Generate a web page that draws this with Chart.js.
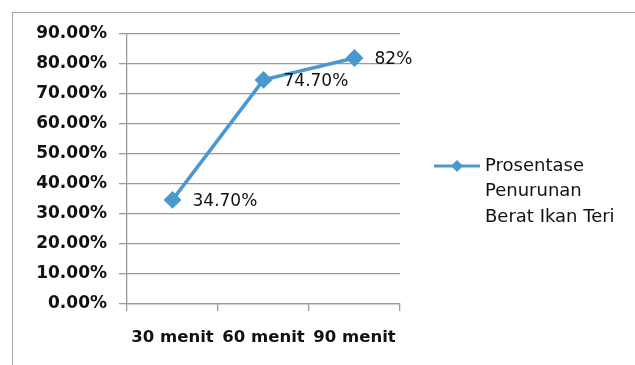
<!DOCTYPE html>
<html>
<head>
<meta charset="utf-8">
<script src="https://cdn.jsdelivr.net/npm/chart.js@4.4.0/dist/chart.umd.min.js"></script>
<style>
  html, body { margin: 0; padding: 0; background: #fff; }
  #wrap { position: relative; width: 635px; height: 365px; overflow: hidden; }
  #frame { position: absolute; left: 12px; top: 12px; width: 700px; height: 400px;
           border-left: 1px solid #a6a6a6; border-top: 1px solid #a6a6a6; }
  canvas { position: absolute; left: 0; top: 0; }
</style>
</head>
<body>
<div id="wrap">
  <div id="frame"></div>
  <canvas id="chart" width="635" height="365"></canvas>
</div>
<script>
// categories and series
const categories = ["30 menit", "60 menit", "90 menit"];
const seriesName = ["Prosentase", "Penurunan", "Berat Ikan Teri"];
const seriesValues = [34.7, 74.7, 82];
const yTicks = [0, 10, 20, 30, 40, 50, 60, 70, 80, 90];

const lineColor = "#4a98d0";

//label text for a point: whole numbers drop the decimals
const fmtValue = (v) => (Number.isInteger(v) ? v + "%" : v.toFixed(2) + "%");

//draws the value next to each marker
const valueLabels = {
  id: "valueLabels",
  afterDatasetsDraw(chart) {
    const ctx = chart.ctx;
    const meta = chart.getDatasetMeta(0);
    ctx.save();
    ctx.font = "17px 'DejaVu Sans'";
    ctx.fillStyle = "#111";
    ctx.textBaseline = "middle";
    ctx.textAlign = "left";
    meta.data.forEach((pt, i) => {
      ctx.fillText(fmtValue(seriesValues[i]), pt.x + 20, pt.y + 2);
    });
    ctx.restore();
  },
};

//legend on the right, wrapped over three lines
const sideLegend = {
  id: "sideLegend",
  afterDraw(chart) {
    const ctx = chart.ctx;
    const x = chart.chartArea.right + 34;
    const y = 166;
    ctx.save();
    ctx.strokeStyle = lineColor;
    ctx.lineWidth = 3;
    ctx.beginPath();
    ctx.moveTo(x, y);
    ctx.lineTo(x + 46, y);
    ctx.stroke();
    ctx.fillStyle = lineColor;
    ctx.beginPath();
    ctx.moveTo(x + 23, y - 6);
    ctx.lineTo(x + 29, y);
    ctx.lineTo(x + 23, y + 6);
    ctx.lineTo(x + 17, y);
    ctx.closePath();
    ctx.fill();
    ctx.font = "18px 'DejaVu Sans'";
    ctx.fillStyle = "#111";
    ctx.textBaseline = "middle";
    seriesName.forEach((line, i) => {
      ctx.fillText(line, x + 51, y + i * 25.5);
    });
    ctx.restore();
  },
};

new Chart(document.getElementById("chart"), {
  type: "line",
  plugins: [valueLabels, sideLegend],
  data: {
    labels: categories,
    datasets: [
      {
        label: seriesName.join(" "),
        data: seriesValues,
        borderColor: lineColor,
        backgroundColor: lineColor,
        borderWidth: 3.5,
        pointStyle: "rectRot",
        pointRadius: 6.5,
        pointHoverRadius: 6.5,
        tension: 0,
      },
    ],
  },
  options: {
    responsive: false,
    animation: false,
    layout: { padding: { top: 34, right: 235, bottom: 0, left: 0 } },
    plugins: {
      legend: { display: false },
      tooltip: { enabled: false },
    },
    scales: {
      x: {
        offset: true,
        afterFit: (s) => { s.height = 61; },
        grid: {
          offset: true,
          drawOnChartArea: false,
          drawTicks: true,
          tickLength: 7,
          color: "#999999",
          lineWidth: 1.3,
        },
        border: { display: true, color: "#999999", width: 1.3 },
        ticks: {
          padding: 17,
          color: "#111",
          font: { family: "'DejaVu Sans'", size: 16.5, weight: "bold" },
        },
      },
      y: {
        min: 0,
        max: 90,
        afterFit: (s) => { s.width = 127; },
        afterBuildTicks: (s) => { s.ticks = yTicks.map((v) => ({ value: v })); },
        grid: { color: "#999999", tickLength: 8, lineWidth: 1.3 },
        border: { display: true, color: "#999999", width: 1.3 },
        ticks: {
          padding: 12,
          color: "#111",
          font: { family: "'DejaVu Sans'", size: 17, weight: "bold" },
          callback: (v) => v.toFixed(2) + "%",
        },
      },
    },
  },
});
</script>
</body>
</html>
